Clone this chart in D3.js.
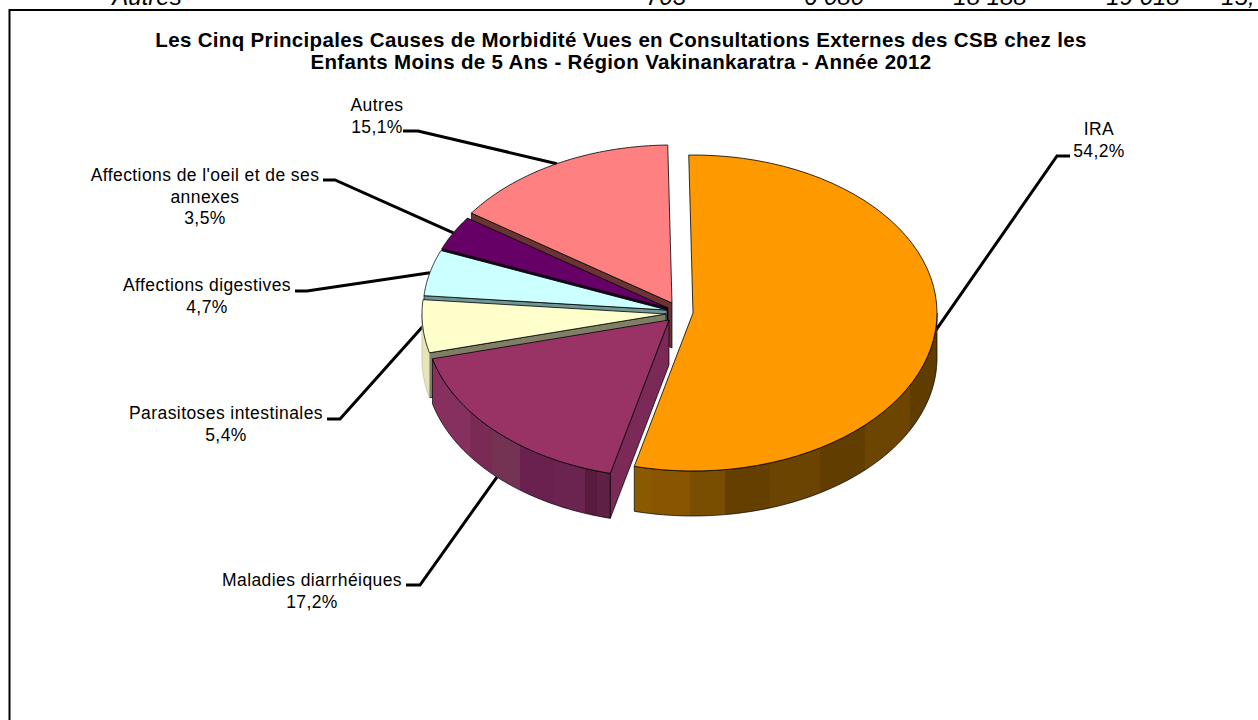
<!DOCTYPE html>
<html><head><meta charset="utf-8">
<script src="https://cdn.jsdelivr.net/npm/d3@7"></script>
<style>html,body{margin:0;padding:0;background:#fff;overflow:hidden}svg{display:block}text{font-family:"Liberation Sans",Arial,sans-serif;fill:#000}</style>
</head><body><svg id="c" width="1258" height="720"></svg>
<script>
// ---- data
const categories = ["IRA","Maladies diarrhéiques","Parasitoses intestinales","Affections digestives","Affections de l'oeil et de ses annexes","Autres"];
const labelLines = [["IRA"],["Maladies diarrhéiques"],["Parasitoses intestinales"],["Affections digestives"],["Affections de l'oeil et de ses","annexes"],["Autres"]];
const shares = [54.2,17.2,5.4,4.7,3.5,15.1];
const shareLabels = ["54,2%","17,2%","5,4%","4,7%","3,5%","15,1%"];
const titleLines = ["Les Cinq Principales Causes de Morbidité Vues en Consultations Externes des CSB chez les","Enfants Moins de 5 Ans - Région Vakinankaratra - Année 2012"];
const croppedRowTexts = ["Autres","703","6 080","18 188","19 018","15,"];

// ---- styles / layout
const topColors = ["#FF9900","#993366","#FFFFCC","#CCFFFF","#660066","#FF8080"];
const faceColors = ["none","#7b2a57","#7f7f66","#6f9595","#1e001e","#6b3434"];
const wallBands = [
  [[633,"#8a5a00"],[652,"#8a5500"],[690,"#7a4e00"],[725,"#653f00"],[770,"#6a4400"],[820,"#623d00"],[865,"#6c4500"],[910,"#5f3c00"]],
  [[430,"#85305f"],[470,"#7a2a55"],[492,"#743352"],[520,"#6a2150"],[555,"#6b2350"],[585,"#581a3d"],[597,"#5e2044"]],
  [[420,"#e6e4b8"]]
];
const rx = 244, ry = 158, depth = 45, rotation = -1 * Math.PI/180;
const centres = [[693,313],[669,320],[666,314],[667,310],[668,308],[672,303]];
const knees = [[1057,156],[420,585],[340,419],[307,291],[335,180],[418,131]];
const stubEnds = [[1070,156],[406,585],[327,419],[295,291],[323,180],[403,131]];
const labelPos = [[1099,135],[312,586],[226,419],[207,291],[205,181],[377,111]];
const croppedX = [147,666,834,990,1143,1238];

const svg = d3.select("#c");
const defs = svg.append("defs");
const pie = d3.pie().sort(null).startAngle(rotation).endAngle(rotation + 2*Math.PI);
const arcs = pie(shares);
const xUnit = d3.scaleLinear().domain([-1,1]).range([-rx,rx]);
const yUnit = d3.scaleLinear().domain([-1,1]).range([ry,-ry]);
const rim = (i,a,dy=0) => [centres[i][0]+xUnit(Math.sin(a)), centres[i][1]+yUnit(Math.cos(a))+dy];
const line = d3.line();
const samples = (a0,a1) => d3.range(0,61).map(k => a0+(a1-a0)*k/60);

// cropped row above the chart
svg.append("g").selectAll("text").data(croppedRowTexts).join("text")
  .attr("x",(d,i)=>croppedX[i]).attr("y",5).attr("text-anchor","middle")
  .attr("font-size",24).attr("font-style","italic").text(d=>d);
// chart frame
svg.append("rect").attr("x",9.5).attr("y",10).attr("width",1300).attr("height",800)
  .attr("fill","#fff").attr("stroke","#000").attr("stroke-width",2);

// title
svg.append("g").selectAll("text").data(titleLines).join("text")
  .attr("x",621).attr("y",(d,i)=>47+i*22).attr("text-anchor","middle")
  .attr("font-size",20.5).attr("letter-spacing",0.34).attr("font-weight","bold").text(d=>d);

// leader lines
arcs.forEach((d,i)=>{
  const mid=(d.startAngle+d.endAngle)/2;
  const drop=Math.cos(mid)<-0.3?depth:0;
  svg.append("path").attr("fill","none").attr("stroke","#000").attr("stroke-width",3)
    .attr("d",line([stubEnds[i],knees[i],rim(i,mid,drop)]));
});

// labels
arcs.forEach((d,i)=>{
  const lines=[...labelLines[i],shareLabels[i]];
  const t=svg.append("text").attr("text-anchor","middle").attr("font-size",17.5).attr("letter-spacing",0.42)
    .attr("x",labelPos[i][0]).attr("y",labelPos[i][1]);
  lines.forEach((l,k)=>t.append("tspan").attr("x",labelPos[i][0]).attr("dy",k?21.5:0).text(l));
});

// stepped wall gradients
wallBands.forEach((bands,i)=>{
  const x0=bands[0][0], x1=i===2?440:(i===0?937:611);
  const g=defs.append("linearGradient").attr("id","wall"+i).attr("gradientUnits","userSpaceOnUse")
    .attr("x1",x0).attr("x2",x1).attr("y1",0).attr("y2",0);
  bands.forEach((b,k)=>{
    const s=(b[0]-x0)/(x1-x0), e=k<bands.length-1?(bands[k+1][0]-x0)/(x1-x0):1;
    g.append("stop").attr("offset",s).attr("stop-color",b[1]);
    g.append("stop").attr("offset",e).attr("stop-color",b[1]);
  });
});

// slices, back to front
const order=[5,4,3,2,1,0];
const edge="#000";
order.forEach(i=>{
  const d=arcs[i], c=centres[i], g=svg.append("g");
  const a0=d.startAngle,a1=d.endAngle;
  // radial face at the slice's first edge
  if(faceColors[i]!=="none"){
    const r=rim(i,a0);
    g.append("path").attr("fill",faceColors[i]).attr("stroke",edge).attr("stroke-width",0.7)
      .attr("d",line([c,r,[r[0],r[1]+depth],[c[0],c[1]+depth]])+"Z");
  }
  // outer wall (front half of the rim)
  const w0=Math.max(a0,Math.PI/2), w1=Math.min(a1,3*Math.PI/2);
  if(w1>w0){
    const top=samples(w0,w1).map(a=>rim(i,a)), bot=samples(w0,w1).map(a=>rim(i,a,depth)).reverse();
    g.append("path").attr("fill",`url(#wall${i})`).attr("stroke",i===2?"#bdbb90":edge).attr("stroke-width",0.7)
      .attr("d",line(top.concat(bot))+"Z");
  }
  // top surface
  const pts=[c,...samples(a0,a1).map(a=>rim(i,a))];
  g.append("path").attr("fill",topColors[i]).attr("stroke",edge).attr("stroke-width",0.8)
    .attr("stroke-linejoin","round").attr("d",line(pts)+"Z");
});
</script></body></html>
